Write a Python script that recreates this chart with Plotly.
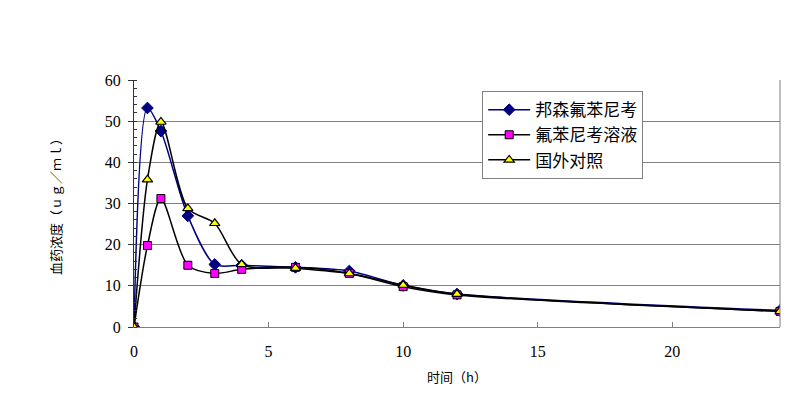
import plotly.graph_objects as go

time_h = [0, 0.5, 1, 2, 3, 4, 6, 8, 10, 12, 24]
bangsen = [0, 53.2, 47.6, 27.0, 15.2, 15.0, 14.5, 13.6, 10.1, 8.0, 4.0]
solution = [0, 19.8, 31.2, 15.0, 13.0, 14.0, 14.5, 13.0, 9.8, 7.8, 3.8]
foreign = [0, 35.8, 49.8, 28.8, 25.2, 15.2, 14.3, 13.0, 10.2, 8.0, 3.8]
names = ["邦森氟苯尼考", "氟苯尼考溶液", "国外对照"]
x_ticks = [0, 5, 10, 15, 20]
y_ticks = [0, 10, 20, 30, 40, 50, 60]

font_family = "Liberation Serif, Noto Sans CJK SC, serif"
cjk = "Noto Sans CJK SC, serif"

fig = go.Figure()
fig.add_trace(go.Scatter(
    x=time_h, y=bangsen, name=names[0], mode="lines+markers",
    line=dict(color="#000080", width=1.5, shape="spline", smoothing=0.8),
    marker=dict(symbol="diamond", size=9, color="#000080", line=dict(color="#000080", width=1)),
))
fig.add_trace(go.Scatter(
    x=time_h, y=solution, name=names[1], mode="lines+markers",
    line=dict(color="#000000", width=1.5, shape="spline", smoothing=0.8),
    marker=dict(symbol="square", size=8, color="#FF00FF", line=dict(color="#000000", width=1)),
))
fig.add_trace(go.Scatter(
    x=time_h, y=foreign, name=names[2], mode="lines+markers",
    line=dict(color="#000000", width=1.5, shape="spline", smoothing=0.8),
    marker=dict(symbol="triangle-up", size=9, color="#FFFF00", line=dict(color="#000000", width=1.2)),
))

fig.update_layout(
    width=800, height=396,
    margin=dict(l=126, r=28, t=72, b=77, autoexpand=False),
    paper_bgcolor="white", plot_bgcolor="white",
    font=dict(family=font_family, size=16, color="#000000"),
    showlegend=True,
    legend=dict(
        x=0.539, y=0.955, xanchor="left", yanchor="top",
        bgcolor="white", bordercolor="#808080", borderwidth=1,
        font=dict(size=17, family=cjk),
        tracegroupgap=0, itemwidth=42,
    ),
    xaxis=dict(
        range=[0, 24], tickvals=x_ticks, ticktext=[str(v) for v in x_ticks],
        showgrid=False, zeroline=False, automargin=False,
        showline=True, linecolor="#808080", linewidth=1, mirror=False,
        ticks="inside", ticklen=5, tickcolor="#808080",
        ticklabelstandoff=10,
        title=dict(text="时间（h）", font=dict(size=13, family=cjk), standoff=13),
        tickfont=dict(size=16),
    ),
    yaxis=dict(
        range=[0, 60], tickvals=y_ticks, automargin=False,
        showgrid=True, gridcolor="#808080", gridwidth=1, zeroline=False,
        showline=True, linecolor="#333333", linewidth=1,
        ticks="outside", ticklen=5, tickcolor="#333333",
        ticklabelstandoff=4,
        minor=dict(dtick=2, ticks="inside", ticklen=3, tickcolor="#333333", showgrid=False),
        title=dict(text="血药浓度（ｕｇ／ｍｌ）", font=dict(size=13, family=cjk), standoff=40),
        tickfont=dict(size=16),
    ),
)
fig.add_shape(type="line", xref="paper", yref="paper", x0=1, x1=1, y0=0, y1=1,
              line=dict(color="#808080", width=1))

fig.write_html("out.html")
